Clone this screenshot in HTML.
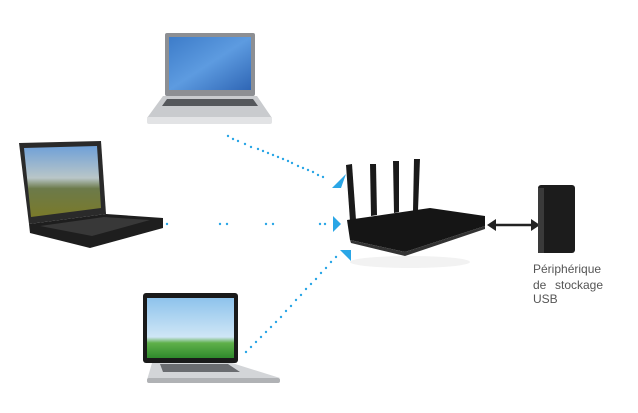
<!DOCTYPE html>
<html><head><meta charset="utf-8"><style>
html,body{margin:0;padding:0;background:#fff;width:638px;height:413px;overflow:hidden}
svg{display:block}
text{font-family:"Liberation Sans",sans-serif;font-size:12px;fill:#555}
</style></head><body>
<svg width="638" height="413" viewBox="0 0 638 413">
<defs>
<linearGradient id="bl" x1="0" y1="0" x2="1" y2="1"><stop offset="0" stop-color="#3d7cc9"/><stop offset="0.5" stop-color="#5d9be0"/><stop offset="1" stop-color="#2f66b5"/></linearGradient>
<linearGradient id="land" x1="0" y1="0" x2="0" y2="1"><stop offset="0" stop-color="#6fa0d8"/><stop offset="0.45" stop-color="#b9c6c8"/><stop offset="0.6" stop-color="#6c7a4a"/><stop offset="1" stop-color="#7a7a2a"/></linearGradient>
<linearGradient id="sky" x1="0" y1="0" x2="0" y2="1"><stop offset="0" stop-color="#8ec3ec"/><stop offset="0.65" stop-color="#cfe6f6"/><stop offset="0.75" stop-color="#5fb04a"/><stop offset="1" stop-color="#2f8a2c"/></linearGradient>
</defs>
<!-- top laptop -->
<rect x="165" y="33" width="90" height="63" rx="2" fill="#8d8f93"/>
<rect x="169" y="37" width="82" height="53" fill="url(#bl)"/>
<polygon points="163,96 257,96 272,118 147,118" fill="#c9cbce"/>
<polygon points="167,99 253,99 258,106 162,106" fill="#55585c"/>
<rect x="147" y="117" width="125" height="7" rx="2" fill="#e2e3e5"/>
<!-- left laptop -->
<polygon points="19,143 101,141 106,214 29,224" fill="#2a2a2a"/>
<polygon points="24,148 97,146 101,208 31,217" fill="url(#land)"/>
<polygon points="29,224 106,214 163,218 163,228 90,248 30,233" fill="#1e1e1e"/>
<polygon points="40,226 104,217 150,220 92,236" fill="#383838"/>
<!-- bottom laptop -->
<rect x="143" y="293" width="95" height="70" rx="3" fill="#1a1a1a"/>
<rect x="147" y="298" width="87" height="60" fill="url(#sky)"/>
<polygon points="152,363 232,363 280,378 147,380" fill="#d3d5d8"/>
<polygon points="160,364 228,364 240,372 163,372" fill="#6a6c70"/>
<rect x="147" y="378" width="133" height="5" rx="2" fill="#b0b2b5"/>
<!-- dotted links -->
<g fill="#2aa6e6">
<circle cx="228" cy="136" r="1.2"/><circle cx="233" cy="139" r="1.2"/><circle cx="238" cy="141" r="1.2"/><circle cx="245" cy="144" r="1.2"/><circle cx="251" cy="147" r="1.2"/><circle cx="258" cy="149" r="1.2"/><circle cx="263" cy="151" r="1.2"/><circle cx="268" cy="153" r="1.2"/><circle cx="273" cy="155" r="1.2"/><circle cx="278" cy="157" r="1.2"/><circle cx="283" cy="159" r="1.2"/><circle cx="288" cy="161" r="1.2"/><circle cx="292" cy="163" r="1.2"/><circle cx="298" cy="166" r="1.2"/><circle cx="303" cy="168" r="1.2"/><circle cx="308" cy="170" r="1.2"/><circle cx="313" cy="172" r="1.2"/><circle cx="318" cy="175" r="1.2"/><circle cx="323" cy="177" r="1.2"/>
<circle cx="167" cy="224" r="1.2"/><circle cx="220" cy="224" r="1.2"/><circle cx="227" cy="224" r="1.2"/><circle cx="266" cy="224" r="1.2"/><circle cx="273" cy="224" r="1.2"/><circle cx="320" cy="224" r="1.2"/><circle cx="325" cy="224" r="1.2"/>
<circle cx="246" cy="352" r="1.2"/><circle cx="251" cy="347" r="1.2"/><circle cx="256" cy="342" r="1.2"/><circle cx="261" cy="337" r="1.2"/><circle cx="266" cy="332" r="1.2"/><circle cx="271" cy="327" r="1.2"/><circle cx="276" cy="322" r="1.2"/><circle cx="281" cy="317" r="1.2"/><circle cx="286" cy="311" r="1.2"/><circle cx="291" cy="306" r="1.2"/><circle cx="296" cy="300" r="1.2"/><circle cx="301" cy="295" r="1.2"/><circle cx="306" cy="289" r="1.2"/><circle cx="311" cy="284" r="1.2"/><circle cx="316" cy="279" r="1.2"/><circle cx="321" cy="273" r="1.2"/><circle cx="326" cy="268" r="1.2"/><circle cx="331" cy="262" r="1.2"/><circle cx="336" cy="257" r="1.2"/>
<polygon points="346,174 341,188 332,188"/>
<polygon points="333,216 341,224 333,232"/>
<polygon points="340,250 351,250 351,261"/>
</g>
<!-- router -->
<g fill="#1a1a1a">
<polygon points="346,165 352,164 356,220 350,221"/>
<polygon points="370,164 376,164 377,215 371,216"/>
<polygon points="393,161 399,161 399,212 394,213"/>
<polygon points="414,159 420,159 418,210 413,211"/>
</g>
<polygon points="347,220 430,208 485,216 485,226 405,252 350,240" fill="#151515"/>
<polygon points="350,240 405,252 485,226 485,229 405,256 351,243" fill="#333"/>
<ellipse cx="410" cy="262" rx="60" ry="6" fill="#f2f2f2"/>
<!-- double arrow -->
<line x1="494" y1="225" x2="533" y2="225" stroke="#222" stroke-width="2.5"/>
<polygon points="487,225 496,219 496,231" fill="#222"/>
<polygon points="540,225 531,219 531,231" fill="#222"/>
<!-- NAS -->
<rect x="538" y="185" width="37" height="68" rx="3" fill="#1c1c1c"/>
<rect x="538" y="188" width="6" height="65" fill="#3a3a3a"/>
<text x="533" y="273">Périphérique</text>
<text x="533" y="289">de</text><text x="555" y="289">stockage</text>
<text x="533" y="303">USB</text>
</svg>
</body></html>
